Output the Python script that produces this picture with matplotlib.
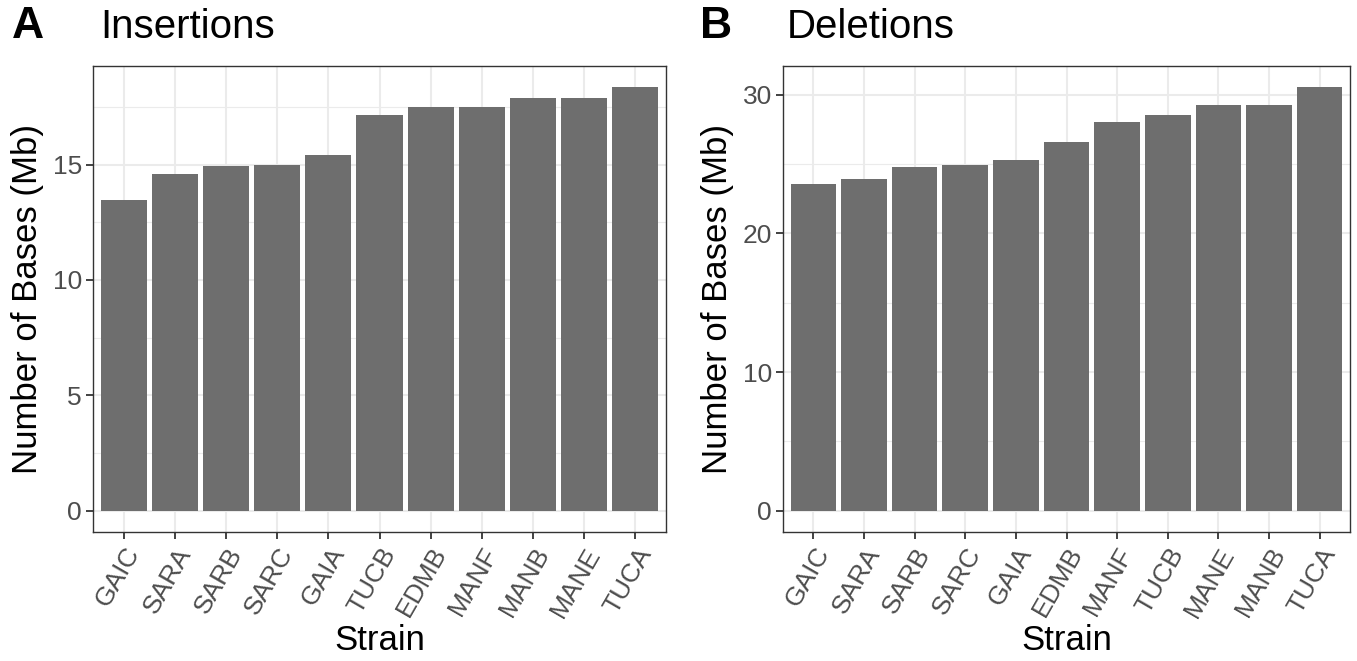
import matplotlib
matplotlib.use("Agg")
import matplotlib.pyplot as plt
from matplotlib.ticker import MultipleLocator

plt.rcParams['font.family'] = ['Liberation Sans', 'DejaVu Sans']

ins_strains = ["GAIC", "SARA", "SARB", "SARC", "GAIA", "TUCB", "EDMB", "MANF", "MANB", "MANE", "TUCA"]
ins_values = [13.46, 14.61, 14.94, 15.00, 15.42, 17.16, 17.47, 17.50, 17.86, 17.87, 18.35]

del_strains = ["GAIC", "SARA", "SARB", "SARC", "GAIA", "EDMB", "MANF", "TUCB", "MANE", "MANB", "TUCA"]
del_values = [23.52, 23.92, 24.81, 24.91, 25.25, 26.59, 28.05, 28.49, 29.23, 29.28, 30.53]

W, H = 1357, 661
fig = plt.figure(figsize=(W / 100, H / 100), dpi=100)

BAR = "#6e6e6e"
GRID = "#ebebeb"
BORDER = "#333333"
TICKLAB = "#4d4d4d"
TICKFS = 19


def panel(rect, strains, values, major):
    ax = fig.add_axes(rect)
    x = list(range(len(strains)))
    ax.bar(x, values, width=0.9, color=BAR, zorder=3)
    vmax = max(values)
    ax.set_xlim(-0.6, len(strains) - 0.4)
    ax.set_ylim(-0.05 * vmax, 1.05 * vmax)
    ax.yaxis.set_major_locator(MultipleLocator(major))
    ax.yaxis.set_minor_locator(MultipleLocator(major / 2))
    ax.set_xticks(x)
    ax.set_xticklabels(strains, rotation=60, ha="right", va="top",
                       rotation_mode="anchor", fontsize=TICKFS, color=TICKLAB)
    for lab in ax.get_yticklabels():
        lab.set_fontsize(TICKFS)
        lab.set_color(TICKLAB)
    ax.grid(True, which="major", color=GRID, linewidth=1.5, zorder=0)
    ax.grid(True, which="minor", axis="y", color=GRID, linewidth=0.8, zorder=0)
    ax.set_axisbelow(True)
    ax.tick_params(axis="both", which="major", length=5, width=1.3, color=BORDER,
                   labelsize=TICKFS, labelcolor=TICKLAB, pad=3)
    ax.tick_params(axis="both", which="minor", length=0)
    for s in ax.spines.values():
        s.set_color(BORDER)
        s.set_linewidth(1.0)
    ax.set_xlabel("Strain", fontsize=25, color="black", labelpad=2)
    ax.set_ylabel("Number of Bases (Mb)", fontsize=25, color="black", labelpad=6)
    return ax


ax1 = panel([93 / W, 1 - 532 / H, (666 - 93) / W, (532 - 66) / H],
            ins_strains, ins_values, 5)
ax2 = panel([783 / W, 1 - 532 / H, (1350 - 783) / W, (532 - 66) / H],
            del_strains, del_values, 10)

fig.text(12 / W, 1 - 27 / H, "A", fontsize=32, fontweight="bold", va="center", ha="left")
fig.text(100 / W, 1 - 27 / H, "Insertions", fontsize=29, va="center", ha="left")
fig.text(700 / W, 1 - 27 / H, "B", fontsize=32, fontweight="bold", va="center", ha="left")
fig.text(787 / W, 1 - 27 / H, "Deletions", fontsize=29, va="center", ha="left")

fig.savefig("out.png", dpi=100, facecolor="white")
